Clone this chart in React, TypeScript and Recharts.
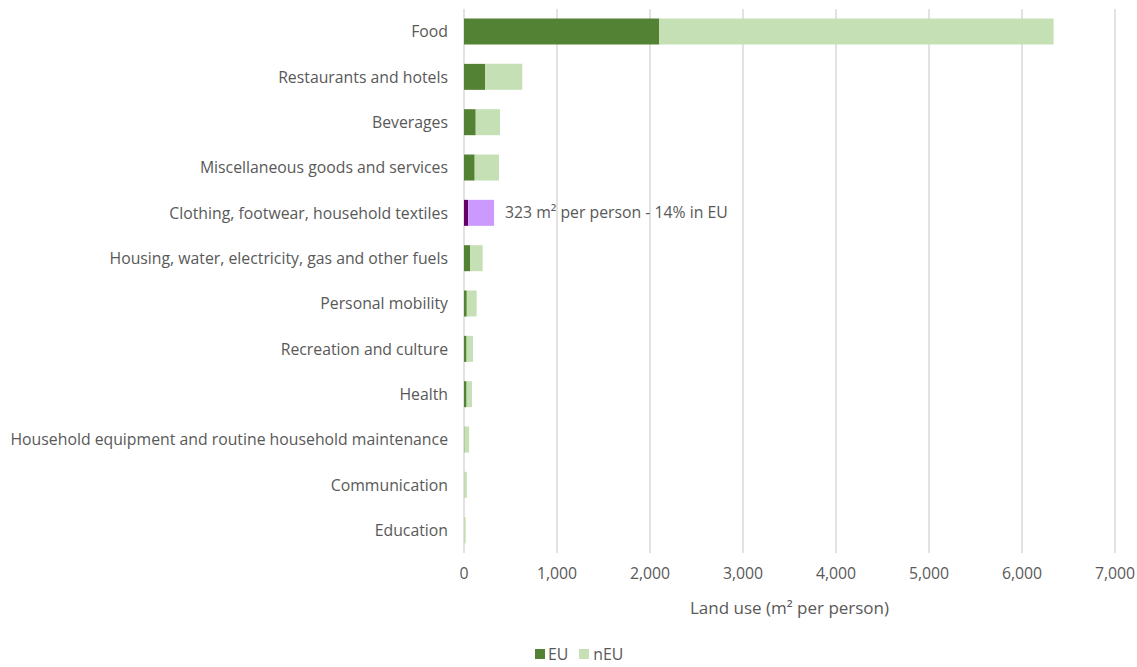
import React from 'react';
import { BarChart, Bar, XAxis, YAxis, CartesianGrid, Cell, LabelList } from 'recharts';

const categories = [
  'Food',
  'Restaurants and hotels',
  'Beverages',
  'Miscellaneous goods and services',
  'Clothing, footwear, household textiles',
  'Housing, water, electricity, gas and other fuels',
  'Personal mobility',
  'Recreation and culture',
  'Health',
  'Household equipment and routine household maintenance',
  'Communication',
  'Education',
];
const euValues = [2100, 229, 126, 115, 45, 65, 30, 28, 28, 5, 3, 2];
const nEuValues = [4240, 398, 261, 261, 278, 136, 106, 69, 58, 50, 27, 16];
const xTicks = [0, 1000, 2000, 3000, 4000, 5000, 6000, 7000];
const highlightCategory = 'Clothing, footwear, household textiles';
const annotation = '323 m² per person - 14% in EU';

const data = categories.map((c, i) => ({ name: c, EU: euValues[i], nEU: nEuValues[i] }));

const FONT = '"Open Sans", Lato, sans-serif';
const TEXT = '#595959';
const FS = 15.8;

const AnnotationLabel = (props: any) => {
  const { x, y, width, height, index } = props;
  if (categories[index] !== highlightCategory) return null;
  return (
    <text x={x + width + 11} y={y + height / 2} dy="0.35em" fill={TEXT} fontSize={FS} fontFamily={FONT}>
      {annotation}
    </text>
  );
};

export default function App() {
  return (
    <div style={{ position: 'absolute', left: 0, top: 0, width: 1137, height: 667, background: '#fff', fontFamily: FONT }}>
      <BarChart
        width={1137}
        height={667}
        data={data}
        layout="vertical"
        margin={{ top: 9, right: 22, left: 0, bottom: 0 }}
        barCategoryGap="21%"
      >
        <CartesianGrid horizontal={false} stroke="#d9d9d9" strokeWidth={1.5} />
        <XAxis
          type="number"
          domain={[0, 7000]}
          ticks={xTicks}
          interval={0}
          tickFormatter={(v: number) => v.toLocaleString('en-US')}
          axisLine={false}
          tickLine={false}
          tickMargin={9}
          height={114}
          tick={{ fill: TEXT, fontSize: FS, fontFamily: FONT }}
          label={{ value: 'Land use (m² per person)', position: 'insideBottom', offset: 53, fill: TEXT, fontSize: 17, fontFamily: FONT }}
        />
        <YAxis
          type="category"
          dataKey="name"
          width={464}
          axisLine={false}
          tickLine={false}
          tickMargin={10}
          interval={0}
          tick={{ fill: TEXT, fontSize: FS, fontFamily: FONT }}
        />
        <Bar dataKey="EU" stackId="a" fill="#548235" isAnimationActive={false}>
          {data.map((d, i) => (
            <Cell key={i} fill={d.name === highlightCategory ? '#660066' : '#548235'} />
          ))}
        </Bar>
        <Bar dataKey="nEU" stackId="a" fill="#c5e0b4" isAnimationActive={false}>
          {data.map((d, i) => (
            <Cell key={i} fill={d.name === highlightCategory ? '#cc99ff' : '#c5e0b4'} />
          ))}
          <LabelList dataKey="nEU" content={AnnotationLabel} />
        </Bar>
      </BarChart>
      <div style={{ position: 'absolute', top: 646, left: 535, height: 16, lineHeight: '16px', display: 'flex', alignItems: 'center', fontSize: FS, color: TEXT, fontFamily: FONT }}>
        <span style={{ display: 'inline-block', width: 10, height: 10, background: '#548235', marginRight: 3 }} />
        <span style={{ marginRight: 11 }}>EU</span>
        <span style={{ display: 'inline-block', width: 10, height: 10, background: '#c5e0b4', marginRight: 4 }} />
        <span>nEU</span>
      </div>
    </div>
  );
}
